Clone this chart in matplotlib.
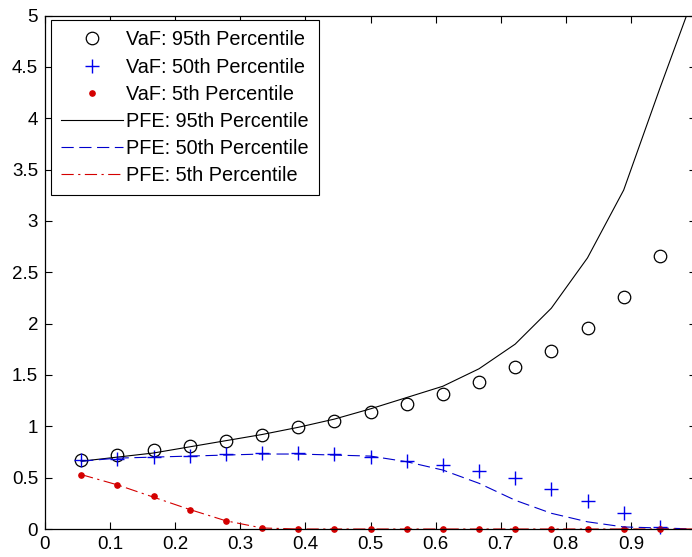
import matplotlib
matplotlib.use("Agg")
from matplotlib import pyplot as plt
from matplotlib.ticker import FormatStrFormatter

plt.rcParams['font.family'] = ['Liberation Sans', 'DejaVu Sans']

# sample points k/18
x_vaf = [k / 18 for k in range(1, 18)]
x_pfe = [k / 18 for k in range(1, 19)]

vaf_95 = [0.667, 0.716, 0.765, 0.81, 0.856, 0.92, 0.99, 1.05, 1.14,
          1.22, 1.31, 1.43, 1.58, 1.73, 1.96, 2.26, 2.66]
vaf_50 = [0.67, 0.68, 0.70, 0.71, 0.727, 0.737, 0.737, 0.727, 0.70,
          0.66, 0.62, 0.565, 0.50, 0.39, 0.27, 0.156, 0.02]
vaf_5 = [0.53, 0.43, 0.32, 0.185, 0.08, 0.01, 0, 0, 0,
         0, 0, 0, 0, 0, 0, 0, 0]

pfe_95 = [0.66, 0.70, 0.74, 0.80, 0.86, 0.92, 0.99, 1.07, 1.17,
          1.28, 1.39, 1.56, 1.80, 2.15, 2.64, 3.30, 4.29, 5.25]
pfe_50 = [0.66, 0.69, 0.70, 0.71, 0.72, 0.73, 0.73, 0.72, 0.71,
          0.655, 0.574, 0.445, 0.28, 0.153, 0.07, 0.02, 0.01, 0.0]
pfe_5 = [0.53, 0.43, 0.31, 0.19, 0.08, 0.01, 0, 0, 0,
         0, 0, 0, 0, 0, 0, 0, 0, 0]

labels = ['VaF: 95th Percentile', 'VaF: 50th Percentile', 'VaF: 5th Percentile',
          'PFE: 95th Percentile', 'PFE: 50th Percentile', 'PFE: 5th Percentile']

fig = plt.figure(figsize=(6.92, 5.57), dpi=100)
ax = fig.add_axes([45 / 692, 28 / 557, 651 / 692, 513.5 / 557])

lw = 0.8
ax.plot(x_vaf, vaf_95, 'o', mfc='none', mec='k', ms=9, mew=0.9,
        clip_on=False, label=labels[0])
ax.plot(x_vaf, vaf_50, '+', color='#0000ee', ms=10.5, mew=1.0,
        clip_on=False, label=labels[1])
ax.plot(x_vaf, vaf_5, 'o', color='#d40000', ms=3.8,
        clip_on=False, label=labels[2])
ax.plot(x_pfe, pfe_95, '-', color='k', lw=lw, label=labels[3])
ax.plot(x_pfe, pfe_50, color='#0000cc', lw=lw, linestyle=(0, (11, 5)),
        label=labels[4])
ax.plot(x_pfe, pfe_5, color='#d40000', lw=lw, linestyle=(0, (11, 4, 2, 4)),
        label=labels[5])

ax.set_xlim(0, 1)
ax.set_ylim(0, 5)
ax.set_xticks([i / 10 for i in range(0, 10)])
ax.set_yticks([i / 2 for i in range(0, 11)])
ax.xaxis.set_major_formatter(FormatStrFormatter('%g'))
ax.yaxis.set_major_formatter(FormatStrFormatter('%g'))
ax.tick_params(direction='in', length=5, width=0.8, labelsize=13.5,
               top=True, right=True, pad=5)
for s in ax.spines.values():
    s.set_linewidth(0.9)

leg = ax.legend(loc='upper left', bbox_to_anchor=(0.0092, 0.991),
                borderaxespad=0, fontsize=14.3, fancybox=False,
                edgecolor='k', framealpha=1, handlelength=3.1,
                handletextpad=0.15, labelspacing=0.41, borderpad=0.52,
                numpoints=1)
leg.get_frame().set_linewidth(0.8)

fig.savefig('out.png', dpi=100)
